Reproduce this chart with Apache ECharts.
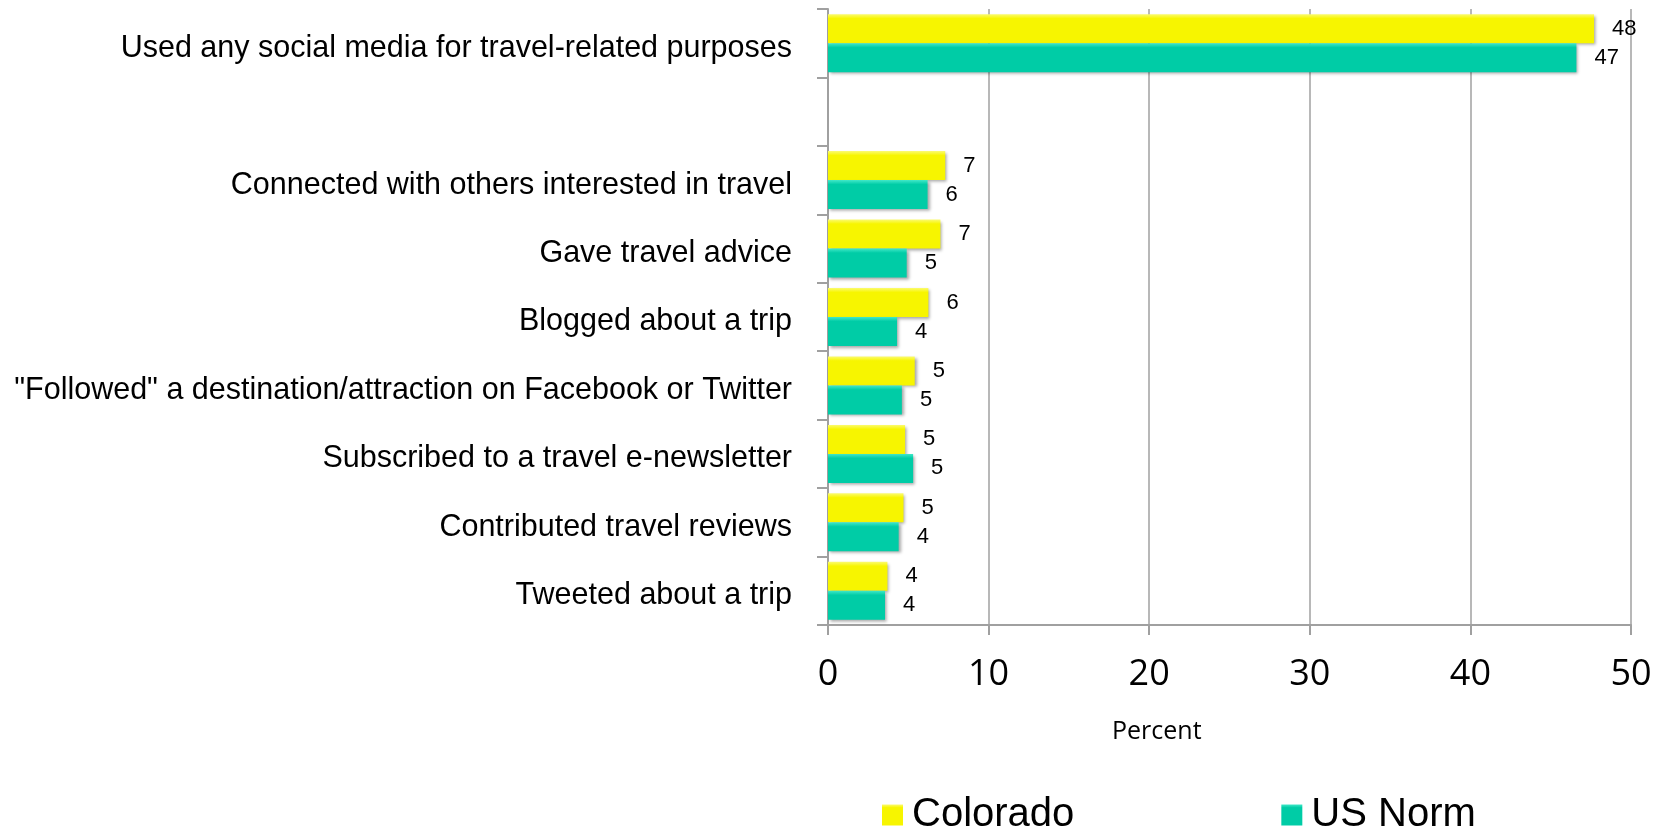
<!DOCTYPE html>
<html lang="en">
<head>
    <meta charset="UTF-8">
    <title>Social media use for travel</title>
    <script src="https://cdn.jsdelivr.net/npm/echarts@6/dist/echarts.min.js"></script>
    <style>
        html, body { margin: 0; padding: 0; background: #fff; }
        #main { width: 1660px; height: 832px; }
    </style>
</head>
<body>
<div id="main"></div>
<script type="text/javascript">
    // categories, top to bottom (blank one is the spacer row)
    var categories = [
        'Used any social media for travel-related purposes',
        '',
        'Connected with others interested in travel',
        'Gave travel advice',
        'Blogged about a trip',
        '"Followed" a destination/attraction on Facebook or Twitter',
        'Subscribed to a travel e-newsletter',
        'Contributed travel reviews',
        'Tweeted about a trip'
    ];
    var colorado = [47.7, '-', 7.3, 7.0, 6.25, 5.4, 4.8, 4.7, 3.7];
    var usNorm = [46.6, '-', 6.2, 4.9, 4.3, 4.6, 5.3, 4.4, 3.55];
    var xTicks = [0, 10, 20, 30, 40, 50];

    var gray = '#a0a0a0';
    var myChart = echarts.init(document.getElementById('main'));

    function barSeries(name, data, color, edge) {
        return {
            name: name,
            type: 'bar',
            data: data,
            barWidth: 29,
            barGap: '0%',
            itemStyle: {
                color: new echarts.graphic.LinearGradient(0, 0, 0, 1, [
                    { offset: 0, color: edge },
                    { offset: 0.15, color: color },
                    { offset: 1, color: color }
                ]),
                shadowColor: 'rgba(0,0,0,0.35)',
                shadowBlur: 3,
                shadowOffsetX: 2,
                shadowOffsetY: 2
            },
            label: {
                show: true,
                position: 'right',
                distance: 18,
                color: '#000',
                fontFamily: 'Liberation Sans, Arial, sans-serif',
                fontSize: 22,
                formatter: function (p) {
                    return Math.round(p.value);
                }
            }
        };
    }

    var option = {
        backgroundColor: '#fff',
        animation: false,
        grid: {
            left: 828,
            right: 29,
            top: 9,
            bottom: 207,
            containLabel: false,
            outerBoundsMode: 'none'
        },
        xAxis: {
            type: 'value',
            min: xTicks[0],
            max: xTicks[xTicks.length - 1],
            interval: 10,
            axisLine: { show: true, lineStyle: { color: gray, width: 2 } },
            axisTick: { show: true, length: 10, lineStyle: { color: gray, width: 2 } },
            splitLine: { show: true, lineStyle: { color: gray, width: 1.5 } },
            axisLabel: {
                margin: 32,
                color: '#000',
                fontFamily: 'Open Sans, sans-serif',
                fontSize: 36
            }
        },
        yAxis: {
            type: 'category',
            inverse: true,
            data: categories,
            axisLine: { show: true, lineStyle: { color: gray, width: 2 } },
            axisTick: { show: true, length: 11, lineStyle: { color: gray, width: 2 } },
            axisLabel: {
                margin: 36,
                formatter: function (v) {
                    return v ? '{c|' + v + '}' : '';
                },
                rich: {
                    c: {
                        color: '#000',
                        fontFamily: 'Liberation Sans, Arial, sans-serif',
                        fontSize: 30.5,
                        padding: [10, 0, 0, 0]
                    }
                }
            }
        },
        legend: {
            data: ['Colorado', 'US Norm'],
            left: 877,
            top: 790,
            icon: 'rect',
            itemWidth: 21,
            itemHeight: 21,
            itemGap: 207,
            textStyle: {
                color: '#000',
                fontFamily: 'Liberation Sans, Arial, sans-serif',
                fontSize: 40,
                padding: [0, 0, 0, 4]
            }
        },
        graphic: [{
            type: 'text',
            left: 1112,
            top: 719,
            style: {
                text: 'Percent',
                fill: '#000',
                font: '25px "Open Sans", sans-serif'
            }
        }],
        series: [
            barSeries('Colorado', colorado, '#f7f500', '#fbfb70'),
            barSeries('US Norm', usNorm, '#00cca6', '#40e8c8')
        ]
    };
    myChart.setOption(option);
</script>
</body>
</html>
